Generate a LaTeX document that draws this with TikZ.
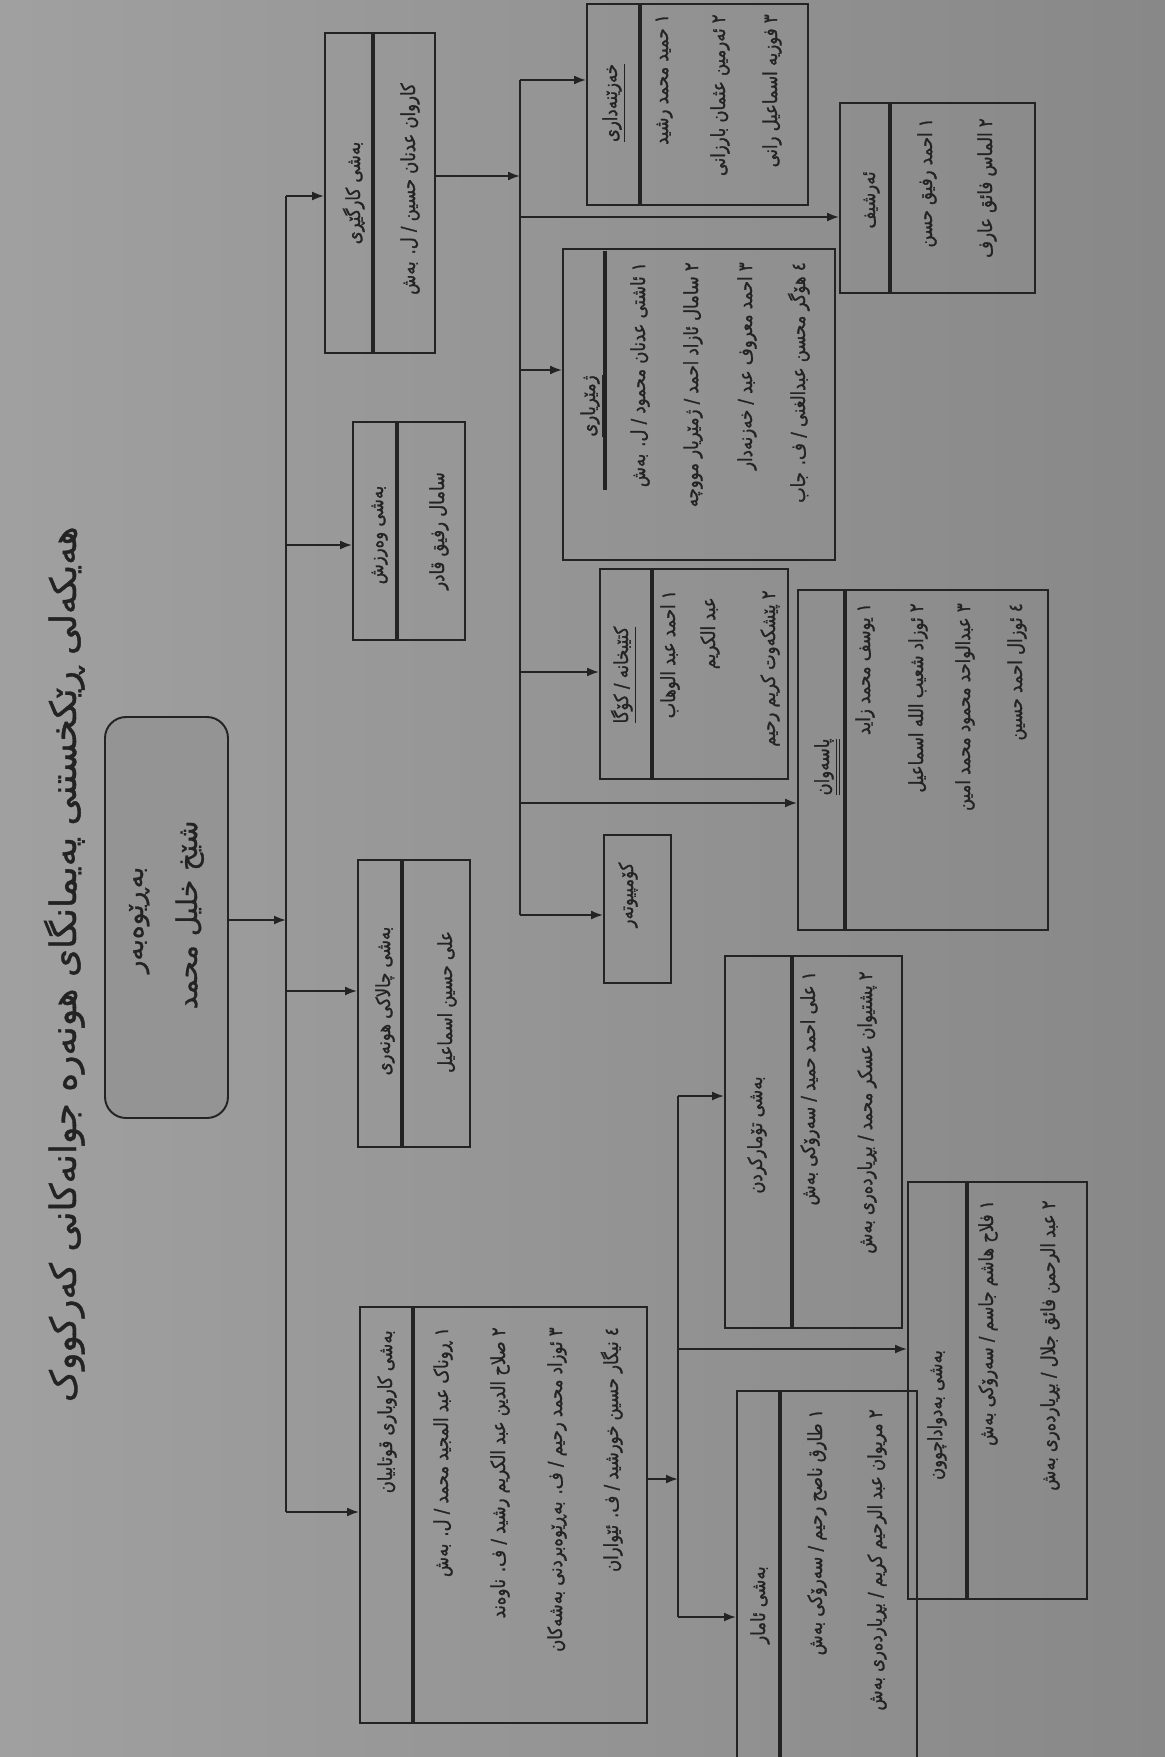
\documentclass[tikz,border=0pt]{standalone}
\usepackage{fontspec}
\newfontfamily\arfont[Script=Arabic, FakeStretch=0.85, FakeBold=1.2]{DejaVu Sans}
\newfontfamily\titlefont[Script=Arabic, FakeBold=1]{DejaVu Sans}
\TeXXeTstate=1
\usetikzlibrary{arrows.meta,fit}
\definecolor{paperl}{RGB}{160,160,160}
\definecolor{paperr}{RGB}{136,136,136}
\definecolor{cardfill}{RGB}{148,148,148}
\definecolor{ink}{RGB}{35,35,35}
\tikzset{
  deptbox/.style={draw=ink, line width=1.1pt, inner sep=0pt},
  divline/.style={draw=ink, line width=2pt},
  wire/.style={draw=ink, line width=1.1pt},
  arr/.style={wire, -{Latex[length=2.4mm,width=1.8mm]}},
  txt/.style={rotate=90, inner sep=0pt, text=ink, font=\arfont\fontsize{11}{13}\selectfont},
  row/.style={txt, anchor=base east},
  head/.style={txt, anchor=base},
}
\begin{document}
\begin{tikzpicture}[x=0.02cm, y=-0.02cm]
    % paper
    \useasboundingbox (0,0) rectangle (1165,1757);
    \shade[left color=paperl, right color=paperr] (0,0) rectangle (1165,1757);

    % title and director
    \node[txt, anchor=base east, font=\titlefont\fontsize{20.5}{24}\selectfont] (title) at (76,526) {\beginR هەیکەلی ڕێکخستنی پەیمانگای هونەرە جوانەکانی کەرکووک\endR};
    \node[deptbox, rounded corners=12pt, fill=cardfill, fit={(105,717) (228,1118)}] (rebar) {};
    \node[head, font=\titlefont\fontsize{15}{18}\selectfont] (rebarT) at (143,920) {\beginR بەڕێوەبەر\endR};
    \node[head, font=\titlefont\fontsize{16}{19}\selectfont] (rebarN) at (197,915) {\beginR شێخ خلیل محمد\endR};

    % first row of sections
    \node[deptbox, fit={(325,33) (435,353)}] (kargeri) {};
    \draw[divline] (373,33) -- (373,353);
    \node[head] (kargeriH) at (360,193) {\beginR بەشی کارگێڕی\endR};
    \node[head] (kargeri1) at (415,189) {\beginR کاروان عدنان حسین / ل. بەش\endR};

    \node[deptbox, fit={(353,422) (465,640)}] (werzish) {};
    \draw[divline] (397,422) -- (397,640);
    \node[head] (werzishH) at (383,535) {\beginR بەشی وەرزش\endR};
    \node[head] (werzish1) at (444,531) {\beginR سامال رفیق قادر\endR};

    \node[deptbox, fit={(358,860) (470,1147)}] (chalaki) {};
    \draw[divline] (402,860) -- (402,1147);
    \node[head] (chalakiH) at (390,1001) {\beginR بەشی چالاکی هونەری\endR};
    \node[head] (chalaki1) at (452,1002) {\beginR علی حسین اسماعیل\endR};

    \node[deptbox, fit={(360,1307) (647,1723)}] (qutabi) {};
    \draw[divline] (413,1307) -- (413,1723);
    \node[row] (qutabiH) at (392,1330) {\beginR بەشی کاروباری قوتابیان\endR};
    \node[row] (qutabi1) at (448,1327) {\beginR ١ ڕوناک عبد المجید محمد / ل. بەش\endR};
    \node[row] (qutabi2) at (505,1327) {\beginR ٢ صلاح الدین عبد الکریم رشید / ف. ناوەند\endR};
    \node[row] (qutabi3) at (562,1327) {\beginR ٣ ئوزاد محمد رحیم / ف. بەڕێوەبردنی بەشەکان\endR};
    \node[row] (qutabi4) at (618,1327) {\beginR ٤ نیگار حسین خورشید / ف. ئێواران\endR};

    % units under the administration
    \node[deptbox, fit={(587,4) (808,205)}] (xezine) {};
    \draw[divline] (640,4) -- (640,205);
    \node[head] (xezineH) at (617,103) {\underline{\beginR خەزێنەداری\endR}};
    \node[row] (xezine1) at (668,14) {\beginR ١ حمید محمد رشید\endR};
    \node[row] (xezine2) at (725,14) {\beginR ٢ ئەرمین عثمان بارزانی\endR};
    \node[row] (xezine3) at (777,14) {\beginR ٣ فوزیە اسماعیل رانی\endR};

    \node[deptbox, fit={(840,103) (1035,293)}] (arshif) {};
    \draw[divline] (890,103) -- (890,293);
    \node[head] (arshifH) at (875,200) {\beginR ئەرشیف\endR};
    \node[row] (arshif1) at (932,118) {\beginR ١ احمد رفیق حسن\endR};
    \node[row] (arshif2) at (992,118) {\beginR ٢ الماس فائق عارف\endR};

    \node[deptbox, fit={(563,249) (835,560)}] (hisab) {};
    \draw[divline] (605,251) -- (605,490);
    \node[head] (hisabH) at (595,406) {\underline{\beginR ژمێریاری\endR}};
    \node[row] (hisab1) at (645,262) {\beginR ١ ئاشتی عدنان محمود / ل. بەش\endR};
    \node[row] (hisab2) at (698,262) {\beginR ٢ سامال ئازاد احمد / ژمێریار مووچە\endR};
    \node[row] (hisab3) at (752,262) {\beginR ٣ احمد معروف عبد / خەزنەدار\endR};
    \node[row] (hisab4) at (805,262) {\beginR ٤ هۆگر محسن عبدالغنی / ف. جاب\endR};

    \node[deptbox, fit={(600,569) (788,779)}] (koga) {};
    \draw[divline] (652,569) -- (652,779);
    \node[head] (kogaH) at (628,675) {\underline{\beginR کتێبخانە / کۆگا\endR}};
    \node[row] (koga1) at (675,590) {\beginR ١ احمد عبد الوهاب\endR};
    \node[row] (koga2) at (715,597) {\beginR عبد الکریم\endR};
    \node[row] (koga3) at (775,590) {\beginR ٢ پێشکەوت کریم رحیم\endR};

    \node[deptbox, fit={(798,590) (1048,930)}] (pasewan) {};
    \draw[divline] (845,590) -- (845,930);
    \node[head] (pasewanH) at (829,767) {\underline{\underline{\beginR پاسەوان\endR}}};
    \node[row] (pasewan1) at (870,603) {\beginR ١ یوسف محمد زاید\endR};
    \node[row] (pasewan2) at (923,603) {\beginR ٢ ئوزاد شعیب الله اسماعیل\endR};
    \node[row] (pasewan3) at (970,603) {\beginR ٣ عبدالواحد محمود محمد امین\endR};
    \node[row] (pasewan4) at (1022,603) {\beginR ٤ ئوزال احمد حسین\endR};

    \node[deptbox, fit={(604,835) (671,983)}] (computer) {};
    \node[head] (computerH) at (633,895) {\beginR کۆمپیوتەر\endR};

    % units under student affairs
    \node[deptbox, fit={(725,956) (902,1328)}] (tomar) {};
    \draw[divline] (792,956) -- (792,1328);
    \node[head] (tomarH) at (762,1135) {\beginR بەشی تۆمارکردن\endR};
    \node[row] (tomar1) at (815,971) {\beginR ١ علی احمد حمید / سەرۆکی بەش\endR};
    \node[row] (tomar2) at (872,971) {\beginR ٢ پشتیوان عسکر محمد / بڕیاردەری بەش\endR};

    \node[deptbox, fit={(908,1182) (1087,1599)}] (badwa) {};
    \draw[divline] (967,1182) -- (967,1599);
    \node[head] (badwaH) at (942,1415) {\beginR بەشی بەدواداچوون\endR};
    \node[row] (badwa1) at (993,1200) {\beginR ١ فلاح هاشم جاسم / سەرۆکی بەش\endR};
    \node[row] (badwa2) at (1055,1200) {\beginR ٢ عبد الرحمن فائق جلال / بڕیاردەری بەش\endR};

    \node[deptbox, fit={(737,1391) (917,1790)}] (amar) {};
    \draw[divline] (780,1391) -- (780,1790);
    \node[head] (amarH) at (765,1605) {\beginR بەشی ئامار\endR};
    \node[row] (amar1) at (822,1409) {\beginR ١ طارق ناصح رحیم / سەرۆکی بەش\endR};
    \node[row] (amar2) at (882,1409) {\beginR ٢ مریوان عبد الرحیم کریم / بڕیاردەری بەش\endR};

    % main bus
    \coordinate (b1) at (286,196);
    \coordinate (b2) at (286,545);
    \coordinate (b3) at (286,991);
    \coordinate (b4) at (286,1512);
    \coordinate (bin) at (286,920);
    \draw[wire] (b1) -- (b4);
    \draw[arr] (rebar.east |- bin) -- (bin);
    \draw[arr] (b1) -- (kargeri.west |- b1);
    \draw[arr] (b2) -- (werzish.west |- b2);
    \draw[arr] (b3) -- (chalaki.west |- b3);
    \draw[arr] (b4) -- (qutabi.west |- b4);

    % administration bus
    \coordinate (k1) at (520,80);
    \coordinate (k2) at (520,217);
    \coordinate (k3) at (520,370);
    \coordinate (k4) at (520,672);
    \coordinate (k5) at (520,803);
    \coordinate (k6) at (520,915);
    \coordinate (kin) at (520,176);
    \draw[wire] (k1) -- (k6);
    \draw[arr] (kargeri.east |- kin) -- (kin);
    \draw[arr] (k1) -- (xezine.west |- k1);
    \draw[arr] (k2) -- (arshif.west |- k2);
    \draw[arr] (k3) -- (hisab.west |- k3);
    \draw[arr] (k4) -- (koga.west |- k4);
    \draw[arr] (k5) -- (pasewan.west |- k5);
    \draw[arr] (k6) -- (computer.west |- k6);

    % student affairs bus
    \coordinate (q1) at (678,1096);
    \coordinate (q2) at (678,1349);
    \coordinate (q3) at (678,1617);
    \coordinate (qin) at (678,1479);
    \draw[wire] (q1) -- (q3);
    \draw[arr] (qutabi.east |- qin) -- (qin);
    \draw[arr] (q1) -- (tomar.west |- q1);
    \draw[arr] (q2) -- (badwa.west |- q2);
    \draw[arr] (q3) -- (amar.west |- q3);
\end{tikzpicture}
\end{document}
